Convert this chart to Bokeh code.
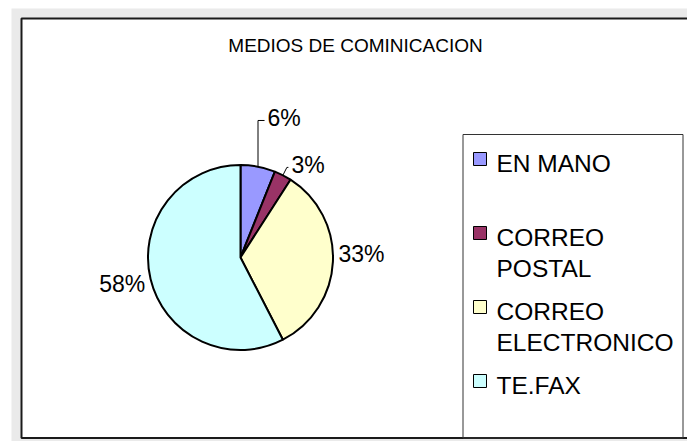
import math
import textwrap
from bokeh.plotting import figure
from bokeh.models import Range1d, Label, ColumnDataSource
from bokeh.core.properties import value
from bokeh.embed import file_html
from bokeh.resources import INLINE

# ---- data ----
categories = ["EN MANO", "CORREO POSTAL", "CORREO ELECTRONICO", "TE.FAX"]
counts = [2, 1, 11, 19]
pct_labels = ["6%", "3%", "33%", "58%"]
colors = ["#9999FF", "#993366", "#FFFFCC", "#CCFFFF"]
title_text = "MEDIOS DE COMINICACION"

# ---- layout (pixel-like space: x right, y up from the bottom edge) ----
FONT = "Liberation Sans"
W, H = 687, 441
CX, CY, R = 240, 184, 92.5
LABEL_DIST = 98
LABEL_NUDGE = [(8.5, 42.8), (6, 5), (0, 8.6), (0, -3)]

p = figure(width=W, height=H, output_backend="svg", toolbar_location=None,
           x_range=Range1d(0, W), y_range=Range1d(0, H),
           x_axis_type=None, y_axis_type=None,
           min_border_left=0, min_border_right=0, min_border_top=0, min_border_bottom=0)
p.grid.visible = False
p.outline_line_color = None
p.border_fill_color = "white"
p.background_fill_color = "white"

# outer grey chart background and white chart area with dark border
p.quad(left=11, right=W + 5, bottom=-5, top=H - 8, fill_color="#eaeaea", line_color=None)
p.quad(left=21, right=W + 5, bottom=3.5, top=423, fill_color="white",
       line_color="#1a1a1a", line_width=2)

# title
p.add_layout(Label(x=355, y=396, text=title_text, text_align="center", text_baseline="middle",
                   text_font=FONT, text_font_size="19px", text_color="black"))

# ---- pie ----
total = sum(counts)
starts, ends, mids = [], [], []
cum = 0.0
for v in counts:
    a0 = cum / total
    cum += v
    a1 = cum / total
    starts.append(math.pi / 2 - 2 * math.pi * a1)
    ends.append(math.pi / 2 - 2 * math.pi * a0)
    mids.append(2 * math.pi * (a0 + a1) / 2)  # clockwise from top

src = ColumnDataSource(dict(start=starts, end=ends, color=colors, cat=categories))
p.wedge(x=CX, y=CY, radius=R, start_angle="start", end_angle="end", direction="anticlock",
        fill_color="color", line_color="black", line_width=2, source=src)

# ---- percentage labels + leaders ----
lx, ly, la = [], [], []
lead_xs, lead_ys = [], []
for i, a in enumerate(mids):
    s, c = math.sin(a), math.cos(a)
    x = CX + LABEL_DIST * s + LABEL_NUDGE[i][0]
    y = CY + LABEL_DIST * c + LABEL_NUDGE[i][1]
    lx.append(x); ly.append(y)
    la.append("left" if s > 0 else "right")
    if counts[i] / total < 0.1:
        ex, ey = CX + R * s, CY + R * c
        k = 0 if i == 0 else 4
        yl = y - 2
        lead_xs.append([ex, ex + k, x - 3])
        lead_ys.append([ey, yl, yl])

p.multi_line(xs=lead_xs, ys=lead_ys, line_color="black", line_width=1)
p.text(x=lx, y=ly, text=pct_labels, text_align=la, text_baseline="middle",
       text_font=value(FONT), text_font_size="23px", text_color="black")

# ---- legend ----
p.quad(left=462.5, right=682.5, top=307, bottom=3.5, fill_color=None,
       line_color="#333333", line_width=1)
LEG_FIRST = H - 163
LEG_STEP = 74
LINE_GAP = 31
sq_x, sq_y, tx, ty, tt = [], [], [], [], []
for i, cat in enumerate(categories):
    base = LEG_FIRST - i * LEG_STEP
    sq_x.append(479.5); sq_y.append(base + 4.5)
    for j, line in enumerate(textwrap.wrap(cat, 11)):
        tx.append(496); ty.append(base - j * LINE_GAP); tt.append(line)
p.scatter(x=sq_x, y=sq_y, marker="square", size=13, fill_color=colors,
          line_color="black", line_width=1)
p.text(x=tx, y=ty, text=tt, text_align="left", text_baseline="alphabetic",
       text_font=value(FONT), text_font_size="24.5px", text_color="black")

open("out.html", "w").write(file_html(p, INLINE))
